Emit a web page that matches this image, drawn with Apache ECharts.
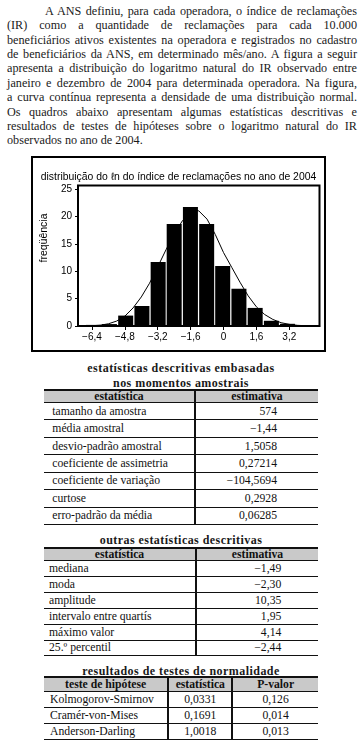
<!DOCTYPE html>
<html>
<head>
<meta charset="utf-8">
<script src="https://cdn.jsdelivr.net/npm/echarts@6/dist/echarts.min.js"></script>
<style>
  html, body { margin: 0; padding: 0; background: #fff; }
  body { width: 361px; height: 747px; position: relative; overflow: hidden; }
  .pl { position: absolute; left: 7px; width: 350px; height: 14.4px; line-height: 14.4px;
        font-family: "Liberation Serif", "Times New Roman", serif; font-size: 12.2px; color: #1a1a1a;
        text-align: justify; text-align-last: justify; white-space: normal; }
  .pl.last { text-align-last: left; }
  #chart { position: absolute; left: 31px; top: 156px; width: 295px; height: 196px;
           border: 2px solid #000; box-sizing: border-box; }
  .ttl { position: absolute; left: 44px; width: 274px; text-align: center;
         font-family: "Liberation Serif", "Times New Roman", serif; font-weight: bold; font-size: 12px;
         letter-spacing: 0.45px; line-height: 14.4px; color: #1a1a1a; }
  .tbl { position: absolute; left: 44px; width: 274px; font-family: "Liberation Serif", "Times New Roman", serif;
         font-size: 11.7px; color: #111; }
  .row { display: flex; border-bottom: 1.5px solid #111; box-sizing: border-box; }
  .row.hd { background: #c9c9c9; border-top: 2px solid #111; font-weight: bold; }
  .cell { box-sizing: border-box; display: flex; align-items: center; white-space: nowrap; }
  .cell.div { border-right: 2px solid #111; }
</style>
</head>
<body>
<div id="para"></div>
<div id="chart"></div>
<div id="tables"></div>
<script>
// ---------- text ----------
const paragraphLines = [
  "A ANS definiu, para cada operadora, o índice de reclamações",
  "(IR) como a quantidade de reclamações para cada 10.000",
  "beneficiários ativos existentes na operadora e registrados no cadastro",
  "de beneficiários da ANS, em determinado mês/ano. A figura a seguir",
  "apresenta a distribuição do logaritmo natural do IR observado entre",
  "janeiro e dezembro de 2004 para determinada operadora. Na figura,",
  "a curva contínua representa a densidade de uma distribuição normal.",
  "Os quadros abaixo apresentam algumas estatísticas descritivas e",
  "resultados de testes de hipóteses sobre o logaritmo natural do IR",
  "observados no ano de 2004."
];

// ---------- chart data ----------
const chartTitle = "distribuição do ℓn do índice de reclamações no ano de 2004";
const yAxisName = "freqüência";
const binCenters = [-6.33, -5.55, -4.76, -3.97, -3.18, -2.40, -1.61, -0.82, -0.04, 0.75, 1.54, 2.33, 3.11, 3.90];
const binFreq    = [0.2, 0.35, 1.9, 3.65, 11.7, 18.6, 21.7, 18.6, 10.95, 6.8, 3.3, 0.95, 0.4, 0.15];
const curveX = [-7.0, -6.4, -6.0, -5.6, -5.2, -4.8, -4.4, -4.0, -3.6, -3.2, -2.8, -2.4, -2.0, -1.6, -1.44, -1.2, -0.8, -0.4, 0.0, 0.4, 0.8, 1.2, 1.6, 2.0, 2.4, 2.8, 3.2, 3.6, 4.0, 4.6];
const curveY = [0.0, 0.05, 0.15, 0.4, 0.9, 1.8, 3.3, 5.3, 7.8, 10.8, 13.9, 16.8, 19.2, 20.9, 21.3, 21.0, 19.5, 16.7, 13.4, 10.7, 8.0, 5.5, 3.5, 2.1, 1.2, 0.6, 0.3, 0.12, 0.05, 0.01];
const xTicks = [-6.4, -4.8, -3.2, -1.6, 0, 1.6, 3.2];
const yTicks = [0, 5, 10, 15, 20, 25];

// ---------- tables ----------
const t1Title = ["estatísticas descritivas embasadas", "nos momentos amostrais"];
const t1Header = ["estatística", "estimativa"];
const t1Labels = ["tamanho da amostra", "média amostral", "desvio-padrão amostral", "coeficiente de assimetria",
                  "coeficiente de variação", "curtose", "erro-padrão da média"];
const t1Values = ["574", "−1,44", "1,5058", "0,27214", "−104,5694", "0,2928", "0,06285"];

const t2Title = ["outras estatísticas descritivas"];
const t2Header = ["estatística", "estimativa"];
const t2Labels = ["mediana", "moda", "amplitude", "intervalo entre quartís", "máximo valor", "25.º percentil"];
const t2Values = ["−1,49", "−2,30", "10,35", "1,95", "4,14", "−2,44"];

const t3Title = ["resultados de testes de normalidade"];
const t3Header = ["teste de hipótese", "estatística", "P-valor"];
const t3Labels = ["Kolmogorov-Smirnov", "Cramér-von-Mises", "Anderson-Darling"];
const t3Stats  = ["0,0331", "0,1691", "1,0018"];
const t3PVals  = ["0,126", "0,014", "0,013"];

// ---------- paragraph ----------
const para = document.getElementById('para');
paragraphLines.forEach((t, i) => {
  const d = document.createElement('div');
  d.className = 'pl' + (i === paragraphLines.length - 1 ? ' last' : '');
  d.style.top = (3.8 + 14.4 * i) + 'px';
  if (i === 0) { d.style.left = '45px'; d.style.width = '312px'; }
  d.textContent = t;
  para.appendChild(d);
});

// ---------- tables builder ----------
const tables = document.getElementById('tables');
function addTitle(lines, top) {
  const d = document.createElement('div');
  d.className = 'ttl';
  d.style.top = top + 'px';
  d.innerHTML = lines.join('<br>');
  tables.appendChild(d);
}
function addTable(top, cols, headH, rowH, header, rows) {
  const t = document.createElement('div');
  t.className = 'tbl';
  t.style.top = top + 'px';
  const mk = (cells, isHead, h) => {
    const r = document.createElement('div');
    r.className = 'row' + (isHead ? ' hd' : '');
    r.style.height = h + 'px';
    cells.forEach((txt, j) => {
      const c = document.createElement('div');
      const col = cols[j];
      c.className = 'cell' + (j < cols.length - 1 ? ' div' : '');
      c.style.width = col.w + 'px';
      const al = isHead ? 'center' : col.align;
      c.style.justifyContent = al === 'left' ? 'flex-start' : al === 'right' ? 'flex-end' : 'center';
      if (!isHead && al === 'left') c.style.paddingLeft = col.pad + 'px';
      if (!isHead && al === 'right') c.style.paddingRight = col.pad + 'px';
      c.textContent = txt;
      r.appendChild(c);
    });
    t.appendChild(r);
  };
  mk(header, true, headH);
  rows.forEach(r => mk(r, false, rowH));
  tables.appendChild(t);
}

addTitle(t1Title, 361.1);
addTable(388.5, [{w: 152, align: 'left', pad: 8.3}, {w: 122, align: 'right', pad: 41}], 14.5, 17.43,
         t1Header, t1Labels.map((l, i) => [l, t1Values[i]]));

addTitle(t2Title, 532.8);
addTable(547, [{w: 153, align: 'left', pad: 5}, {w: 121, align: 'right', pad: 36.7}], 14, 15.92,
         t2Header, t2Labels.map((l, i) => [l, t2Values[i]]));

addTitle(t3Title, 663.5);
addTable(676, [{w: 125.3, align: 'left', pad: 6}, {w: 64, align: 'center'}, {w: 84.7, align: 'center'}], 15.5, 16.17,
         t3Header, t3Labels.map((l, i) => [l, t3Stats[i], t3PVals[i]]));

// ---------- chart ----------
const fmt = v => (v === 0 ? '0' : (v < 0 ? '−' : '') + Math.abs(v).toFixed(1).replace('.', ','));
const chart = echarts.init(document.getElementById('chart'), null, { renderer: 'canvas' });
const sans = '"Liberation Sans", Arial, sans-serif';
chart.setOption({
  animation: false,
  title: {
    text: chartTitle, left: 'center', top: 9,
    textStyle: { fontFamily: sans, fontSize: 10.4, fontWeight: 'normal', color: '#000' }
  },
  grid: { left: 45, top: 27.5, width: 241.5, height: 140.5, show: true, borderColor: '#000', borderWidth: 2,
          containLabel: false, outerBoundsMode: 'none' },
  xAxis: {
    type: 'value', min: -7.08, max: 4.67,
    splitLine: { show: false },
    axisLine: { show: true, onZero: false, lineStyle: { color: '#000', width: 1.5 } },
    axisTick: { show: true, length: 4, customValues: xTicks, lineStyle: { color: '#000', width: 1 } },
    axisLabel: { customValues: xTicks, formatter: fmt, margin: 6, color: '#000', fontFamily: sans, fontSize: 10 }
  },
  yAxis: {
    type: 'value', min: 0, max: 25.64,
    splitLine: { show: false },
    axisLine: { show: true, onZero: false, lineStyle: { color: '#000', width: 1.5 } },
    axisTick: { show: true, length: 3, customValues: yTicks, lineStyle: { color: '#000', width: 1 } },
    axisLabel: { customValues: yTicks, formatter: v => String(v), margin: 6, color: '#000', fontFamily: sans, fontSize: 10 }
  },
  graphic: [{
    type: 'text', x: 11.5, y: 80, rotation: Math.PI / 2,
    style: { text: yAxisName, fill: '#000', font: '10.5px ' + sans, textAlign: 'center', textVerticalAlign: 'middle' }
  }],
  series: [
    {
      type: 'bar', barWidth: 15, z: 2,
      itemStyle: { color: '#000' },
      data: binCenters.map((c, i) => [c, binFreq[i]])
    },
    {
      type: 'line', z: 3, symbol: 'none', smooth: false,
      lineStyle: { color: '#000', width: 1 },
      data: curveX.map((x, i) => [x, curveY[i]])
    }
  ]
});
</script>
</body>
</html>
